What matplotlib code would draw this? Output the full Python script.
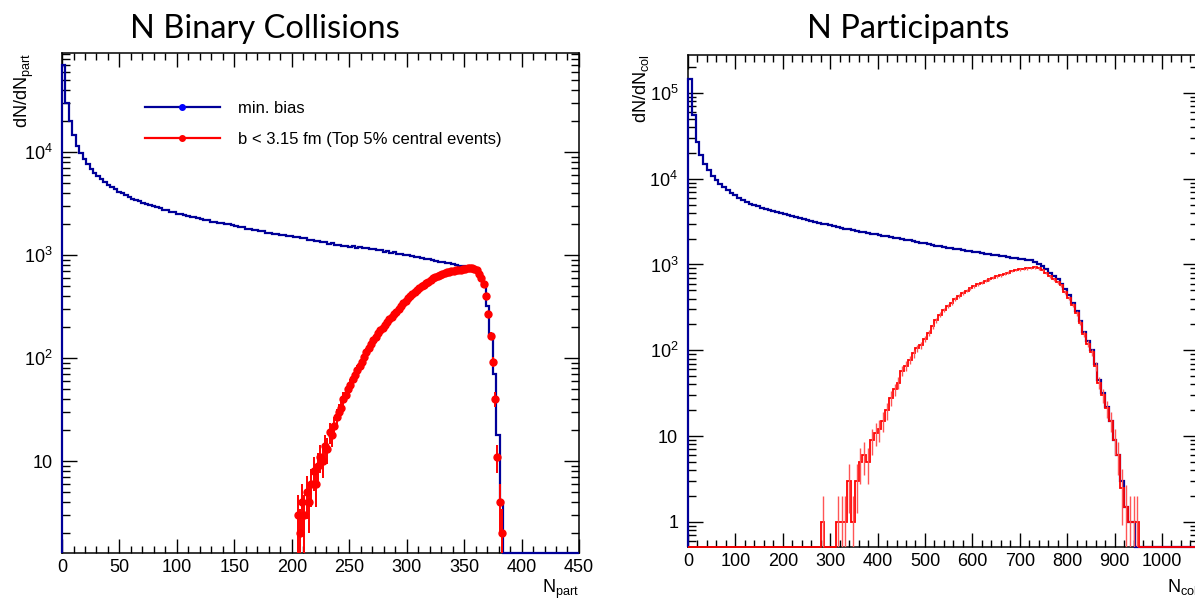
import numpy as np
import matplotlib.pyplot as plt
from matplotlib.lines import Line2D
from matplotlib.ticker import FuncFormatter, LogLocator, MultipleLocator, NullFormatter

plt.rcParams["font.family"] = ["Liberation Sans", "DejaVu Sans"]
plt.rcParams["mathtext.fontset"] = "custom"
plt.rcParams["mathtext.rm"] = "Liberation Sans"
plt.rcParams["mathtext.it"] = "Liberation Sans:italic"
plt.rcParams["mathtext.bf"] = "Liberation Sans:bold"

# ---- left panel: N_part, bins of 3 (min. bias) ----
npart_edges = np.arange(0, 451, 3)
npart_minbias = [
    70000, 30000, 20000, 14500, 11500, 9800, 8600, 7600, 6900, 6300,
    5800, 5450, 5100, 4800, 4550, 4330, 4100, 3950, 3820, 3650,
    3520, 3400, 3310, 3190, 3130, 3040, 2980, 2890, 2830, 2750,
    2710, 2630, 2590, 2520, 2490, 2420, 2400, 2340, 2320, 2260,
    2240, 2190, 2170, 2110, 2100, 2050, 2040, 1990, 1980, 1940,
    1930, 1870, 1860, 1800, 1790, 1740, 1730, 1690, 1690, 1650,
    1650, 1610, 1610, 1570, 1570, 1540, 1530, 1490, 1490, 1450,
    1450, 1410, 1410, 1370, 1370, 1330, 1330, 1290, 1300, 1260,
    1260, 1230, 1230, 1200, 1210, 1180, 1190, 1160, 1170, 1140,
    1150, 1110, 1110, 1080, 1090, 1050, 1060, 1030, 1030, 1000,
    990, 970, 965, 945, 940, 915, 910, 885, 880, 860,
    855, 835, 830, 810, 805, 785, 780, 760, 750, 735,
    715, 640, 500, 320, 170, 70, 18, 4,
    0, 0, 0, 0, 0, 0, 0, 0, 0, 0, 0,
    0, 0, 0, 0, 0, 0, 0, 0, 0, 0, 0,
]

# central events, bins of 2 (points at bin centres)
npart_central_x = np.arange(205, 384, 2)
npart_central = [
    3, 2, 4, 3, 5, 4, 6, 8, 6, 9,
    11, 10, 14, 13, 19, 18, 22, 27, 30, 33,
    40, 44, 50, 55, 63, 68, 76, 84, 92, 103,
    115, 125, 138, 148, 160, 175, 185, 197, 210, 222,
    238, 250, 268, 282, 300, 318, 340, 360, 380, 398,
    418, 437, 455, 475, 495, 512, 532, 550, 575, 595,
    612, 628, 640, 655, 668, 680, 688, 697, 703, 710,
    718, 722, 728, 735, 742, 748, 745, 735, 715, 660,
    600, 520, 400, 265, 165, 92, 40, 11, 4, 2,
]

# ---- right panel: N_col, bins of 8 ----
ncol_edges = np.arange(0, 1081, 8)
ncol_minbias = [
    145000, 55000, 27000, 19000, 15000, 12500, 10800, 9600, 8700, 7900,
    7300, 6800, 6400, 6000, 5600, 5300, 5100, 4900, 4750, 4600,
    4450, 4300, 4200, 4080, 3980, 3880, 3780, 3680, 3580, 3480,
    3400, 3300, 3200, 3120, 3060, 3000, 2930, 2850, 2800, 2740,
    2680, 2620, 2570, 2520, 2470, 2420, 2370, 2330, 2280, 2240,
    2200, 2150, 2120, 2080, 2050, 2020, 1990, 1950, 1910, 1870,
    1830, 1790, 1760, 1720, 1690, 1660, 1630, 1600, 1570, 1550,
    1520, 1500, 1470, 1450, 1430, 1400, 1380, 1360, 1340, 1320,
    1300, 1280, 1260, 1240, 1220, 1200, 1190, 1170, 1160, 1140,
    1120, 1080, 1020, 950, 880, 800, 730, 680, 600, 520,
    440, 360, 290, 220, 165, 130, 100, 70, 45, 32,
    22, 15, 9, 6, 3, 1.5, 1, 1, 0, 0,
    0, 0, 0, 0, 0, 0, 0, 0, 0, 0,
    0, 0, 0, 0, 0,
]
ncol_central = [
    0, 0, 0, 0, 0, 0, 0, 0, 0, 0,
    0, 0, 0, 0, 0, 0, 0, 0, 0, 0,
    0, 0, 0, 0, 0, 0, 0, 0, 0, 0,
    0, 0, 0, 0, 0, 1, 0, 0, 0, 1,
    1, 1, 3, 1, 3, 5, 6, 5, 9, 11,
    12, 15, 20, 28, 35, 42, 58, 66, 78, 92,
    105, 115, 135, 160, 190, 225, 260, 295, 330, 360,
    395, 430, 465, 495, 530, 560, 590, 615, 645, 675,
    700, 725, 750, 780, 805, 840, 860, 880, 890, 900,
    910, 925, 900, 860, 800, 730, 670, 620, 570, 480,
    410, 340, 270, 210, 155, 120, 95, 65, 42, 30,
    21, 15, 9, 6, 2.5, 1.5, 1, 1, 1, 0,
    0, 0, 0, 0, 0, 0, 0, 0, 0, 0,
    0, 0, 0, 0, 0,
]

BLUE = "#000099"
RED = "#ff0000"


def log_label(v, pos):
    if np.isclose(v, 1):
        return "1"
    if np.isclose(v, 10):
        return "10"
    return r"$10^{%d}$" % int(round(np.log10(v)))


def style_axes(ax, xmajor, xminor):
    ax.set_yscale("log")
    ax.xaxis.set_major_locator(MultipleLocator(xmajor))
    ax.xaxis.set_minor_locator(MultipleLocator(xminor))
    ax.yaxis.set_major_locator(LogLocator(base=10, numticks=12))
    ax.yaxis.set_minor_locator(LogLocator(base=10, subs=np.arange(2, 10), numticks=12))
    ax.yaxis.set_major_formatter(FuncFormatter(log_label))
    ax.yaxis.set_minor_formatter(NullFormatter())
    ax.tick_params(which="both", direction="in", top=True, right=True, width=1.0, labelsize=13)
    ax.tick_params(axis="x", which="major", length=10, pad=4)
    ax.tick_params(axis="x", which="minor", length=5)
    ax.tick_params(axis="y", which="major", length=11, pad=7)
    ax.tick_params(axis="y", which="minor", length=6)
    for sp in ax.spines.values():
        sp.set_linewidth(1.1)


fig = plt.figure(figsize=(11.95, 6.03), dpi=100)

# left panel
ax1 = fig.add_axes([0.0519, 0.0829, 0.4326, 0.829])
y1min, y1max = 1.28, 9.1e4
ax1.stairs(np.clip(npart_minbias, y1min, None), npart_edges, baseline=y1min,
           color=BLUE, lw=1.6, zorder=3, clip_on=False)
c = np.array(npart_central, dtype=float)
ax1.errorbar(npart_central_x, c, yerr=np.sqrt(c), fmt="o", color=RED, ms=5,
             elinewidth=1.4, capsize=0, zorder=4)
ax1.set_xlim(0, 450)
ax1.set_ylim(y1min, y1max)
style_axes(ax1, 50, 10)
ax1.set_ylabel(r"dN/dN$_{\rm part}$", fontsize=13, loc="top")
ax1.yaxis.set_label_coords(-0.05, 1.0)
ax1.set_xlabel(r"N$_{\rm part}$", fontsize=13, loc="right")
ax1.xaxis.set_label_coords(1.0, -0.05)

handles = [
    Line2D([], [], color=BLUE, lw=1.6, marker="o", ms=4, markerfacecolor="#0000ff", markeredgecolor="#0000ff"),
    Line2D([], [], color=RED, lw=1.6, marker="o", ms=4),
]
ax1.legend(handles, ["min. bias", "b < 3.15 fm (Top 5% central events)"],
           loc="upper left", bbox_to_anchor=(0.16, 0.905), frameon=False,
           fontsize=12, handlelength=4.5, handletextpad=1.1, labelspacing=1.0,
           borderpad=0, borderaxespad=0)

# right panel
ax2 = fig.add_axes([0.5757, 0.0929, 0.4268, 0.816])
y2min, y2max = 0.51, 2.77e5
ax2.stairs(np.clip(ncol_minbias, y2min, None), ncol_edges, baseline=y2min,
           color=BLUE, lw=1.6, zorder=3, clip_on=False)
r = np.array(ncol_central, dtype=float)
ax2.stairs(np.clip(r, y2min, None), ncol_edges, baseline=y2min,
           color=RED, lw=1.3, zorder=4, clip_on=False)
centres = 0.5 * (ncol_edges[:-1] + ncol_edges[1:])
nz = r > 0
ax2.errorbar(centres[nz], r[nz], yerr=np.sqrt(r[nz]), fmt="none", ecolor="#ff5555",
             elinewidth=1.0, capsize=0, zorder=4)
ax2.set_xlim(0, 1076)
ax2.set_ylim(y2min, y2max)
style_axes(ax2, 100, 20)
ax2.set_ylabel(r"dN/dN$_{\rm col}$", fontsize=13, loc="top")
ax2.yaxis.set_label_coords(-0.072, 1.0)
ax2.set_xlabel(r"N$_{\rm col}$", fontsize=13, loc="right")
ax2.xaxis.set_label_coords(1.0, -0.06)

# slide titles
fig.text(265 / 1195, 1 - 38 / 603, "N Binary Collisions", ha="center", va="baseline",
         fontsize=23.5, family=["Lato", "DejaVu Sans"])
fig.text(908 / 1195, 1 - 38 / 603, "N Participants", ha="center", va="baseline",
         fontsize=23.5, family=["Lato", "DejaVu Sans"])

fig.savefig("out.png", dpi=100)
